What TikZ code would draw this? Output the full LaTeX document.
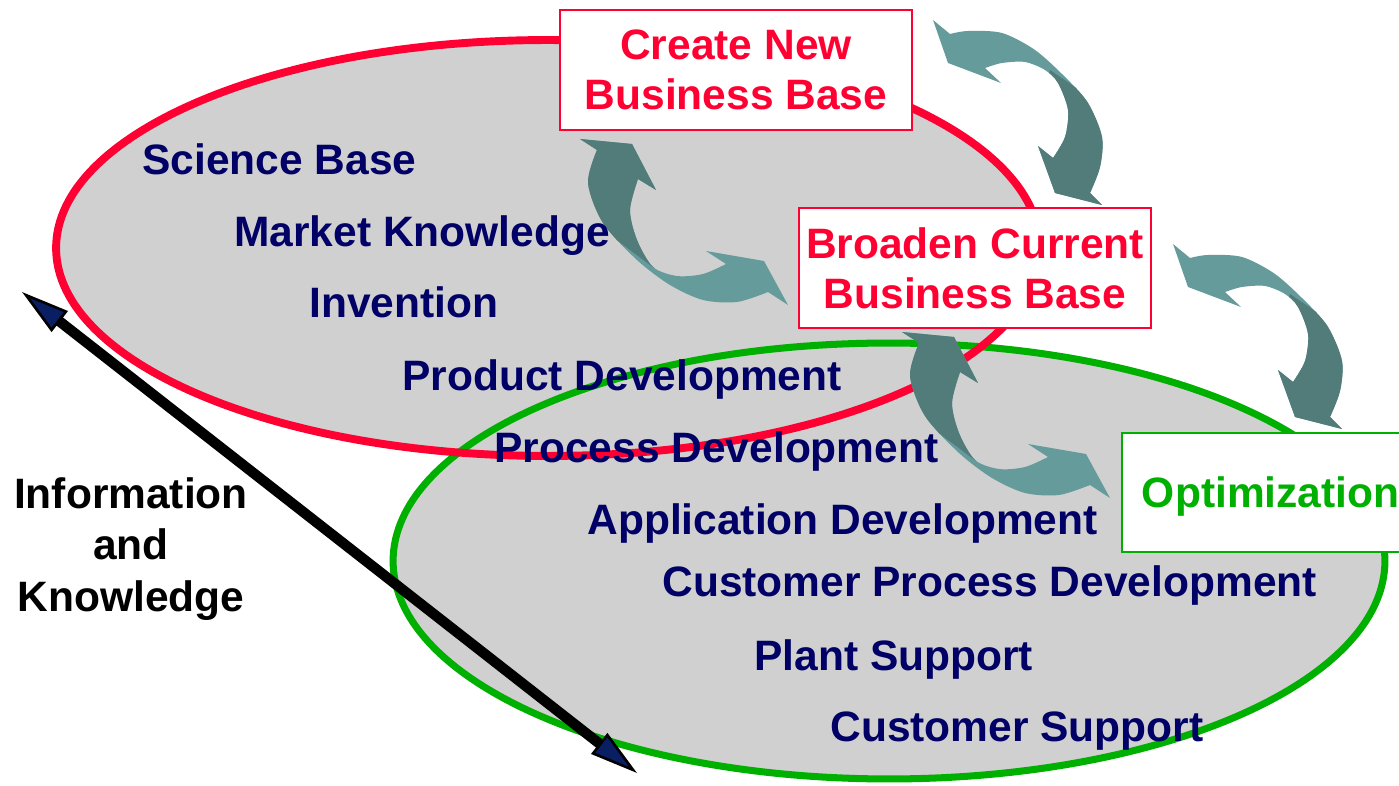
\documentclass[tikz,border=0pt]{standalone}
\usepackage{fontspec}
\setmainfont{Liberation Sans}
\usepackage{tikz}
\usetikzlibrary{arrows.meta}
\definecolor{boxred}{RGB}{255,0,51}
\definecolor{ringgreen}{RGB}{0,176,0}
\definecolor{topicblue}{RGB}{0,0,102}
\definecolor{ovalgray}{RGB}{208,208,208}
\definecolor{teallight}{RGB}{102,155,155}
\definecolor{tealdark}{RGB}{82,124,122}
\definecolor{tipnavy}{RGB}{10,30,100}
\tikzset{topic/.style={anchor=base west,inner sep=0pt,text=topicblue,font=\bfseries\fontsize{24.2}{28.5}\selectfont},
  stage box/.style={draw=boxred,line width=1.1pt,fill=white,text=boxred,align=center,minimum width=7.04cm,minimum height=2.4cm,inner sep=0pt,font=\bfseries\fontsize{24.2}{28.5}\selectfont},}
% curved double arrow, opening to the right
\newcommand{\swooshleft}[1]{%
  \fill[#1] (580,139) -- (632,144) -- (656,190) -- (638,179)
    -- plot[smooth] coordinates {(638,179) (630,210) (637,240) (653,267) (677,276) (703,274) (726,264)}
    -- (706,251) -- (764,261) -- (788,305) -- (768,292)
    -- plot[smooth] coordinates {(768,292) (737,302) (703,300) (670,285) (637,260) (603,223) (588,183) (597,150)} -- cycle;}
% curved double arrow, opening to the left
\newcommand{\swooshright}[1]{%
  \fill[#1] (933,20) -- (948,63) -- (1001,83) -- (985,68)
    -- plot[smooth] coordinates {(985,68) (1002,63) (1025,62) (1045,70) (1058,83) (1068,110) (1065,137) (1053,158)}
    -- (1038,146) -- (1055,193) -- (1102,205) -- (1090,193)
    -- plot[smooth] coordinates {(1090,193) (1100,167) (1102,137) (1088,103) (1065,77) (1035,50) (1002,33) (968,31) (950,34)} -- cycle;}

\begin{document}
\begin{tikzpicture}[x=0.02cm,y=-0.02cm]
\useasboundingbox (0,0) rectangle (1399,786);
\clip (0,0) rectangle (1399,786);
% ovals
\fill[ovalgray] (548,248) ellipse [x radius=9.84cm, y radius=4.16cm];
\fill[ovalgray] (889,561) ellipse [x radius=9.92cm, y radius=4.36cm];
\draw[ringgreen, line width=4pt] (889,561) ellipse [x radius=9.92cm, y radius=4.36cm];
\draw[boxred, line width=4.5pt] (548,248) ellipse [x radius=9.84cm, y radius=4.16cm];

% swooshes
\foreach \dx/\dy in {0/0, 322/193} {
  \begin{scope}[shift={(\dx,\dy)}]
    \swooshleft{teallight}
    \begin{scope}
      \clip (540,183) -- (540,120) -- (690,120) -- (690,250) -- (654,268) -- (606,232) -- cycle;
      \swooshleft{tealdark}
    \end{scope}
  \end{scope}
}
\foreach \dx/\dy in {0/0, 240/224} {
  \begin{scope}[shift={(\dx,\dy)}]
    \swooshright{teallight}
    \begin{scope}
      \clip (1050,70) -- (1125,121) -- (1125,230) -- (1020,230) -- (1020,150) -- cycle;
      \swooshright{tealdark}
    \end{scope}
  \end{scope}
}

% information axis
\coordinate (infotop) at (22,292);
\coordinate (infobot) at (637,773);
\draw[line width=5.9pt,
  {Triangle[length=0.96cm,width=0.52cm,line width=1.5pt,fill=tipnavy]}-{Triangle[length=0.96cm,width=0.52cm,line width=1.5pt,fill=tipnavy]}]
  (infotop) -- (infobot);

% topics
\node[topic] (science) at (142,175) {Science Base};
\node[topic] (market) at (234,247) {Market Knowledge};
\node[topic] (invention) at (309,318) {Invention};
\node[topic] (product) at (402,391) {Product Development};
\node[topic] (process) at (494,463) {Process Development};
\node[topic] (application) at (587,535) {Application Development};
\node[topic] (custproc) at (662,597) {Customer Process Development};
\node[topic] (plant) at (754,670) {Plant Support};
\node[topic] (custsup) at (830,741) {Customer Support};

% stages
\node[stage box, text depth=0pt] (create) at (736,70) {Create New\\Business Base};
\node[stage box, text depth=0pt] (broaden) at (975,268) {Broaden Current\\Business Base};
\node[stage box, draw=ringgreen, text=ringgreen, anchor=west, minimum width=0pt, minimum height=2.38cm,
  inner xsep=0.4cm, text depth=0pt] (optim) at (1121,492.5) {Optimization};

\node[align=center, font=\bfseries\fontsize{24.2}{29.5}\selectfont] (info) at (131,549) {Information\\and\\Knowledge};
\end{tikzpicture}
\end{document}
